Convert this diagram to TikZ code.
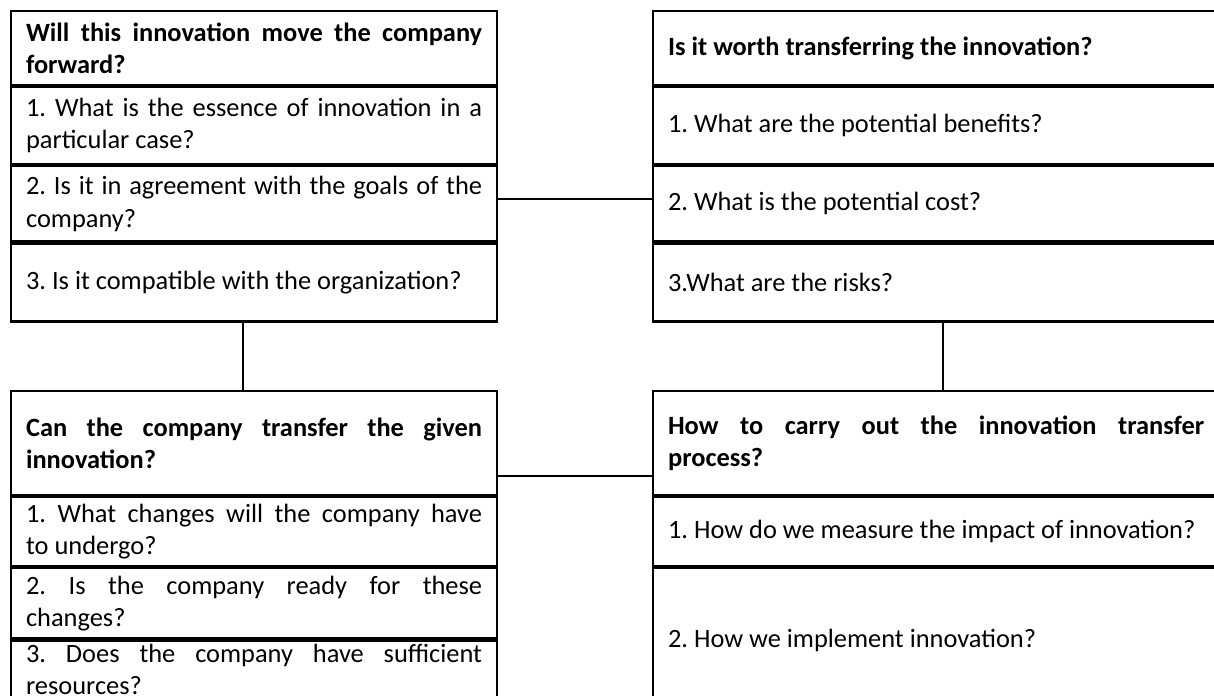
\documentclass[tikz,border=0pt]{standalone}
\usepackage{fontspec}
\setmainfont{Carlito}
\usetikzlibrary{positioning}
\newdimen\pxu \pxu=0.4167pt
\frenchspacing
\hyphenpenalty=10000
\exhyphenpenalty=10000

\tikzstyle{cell} = [draw, rectangle, line width=0.9pt, inner xsep=15\pxu, inner ysep=0pt, align=justify, font=\fontsize{11}{13.4}\selectfont]
\tikzstyle{leftcell} = [cell, minimum width=486\pxu, text width=456\pxu]
\tikzstyle{rightcell} = [cell, minimum width=566\pxu, text width=536\pxu]
\tikzstyle{line} = [draw, line width=0.8pt]

\begin{document}
\begin{tikzpicture}[x=0.4167pt, y=-0.4167pt]
    \useasboundingbox (0,0) rectangle (1214,696);
    % Place nodes
    \node [leftcell, anchor=north west, minimum height=74\pxu] (tl0) at (10,10) {\textbf{Will this innovation move the company forward?}};
    \node [leftcell, minimum height=77\pxu, below=0pt of tl0] (tl1) {1. What is the essence of innovation in a particular case?};
    \node [leftcell, minimum height=75\pxu, below=0pt of tl1] (tl2) {2. Is it in agreement with the goals of the company?};
    \node [leftcell, minimum height=78\pxu, below=0pt of tl2] (tl3) {3. Is it compatible with the organization?};

    \node [rightcell, anchor=north west, minimum height=74\pxu] (tr0) at (652,10) {\textbf{Is it worth transferring the innovation?}};
    \node [rightcell, minimum height=77\pxu, below=0pt of tr0] (tr1) {1. What are the potential benefits?};
    \node [rightcell, minimum height=75\pxu, below=0pt of tr1] (tr2) {2. What is the potential cost?};
    \node [rightcell, minimum height=78\pxu, below=0pt of tr2] (tr3) {3.What are the risks?};

    \node [leftcell, anchor=north west, minimum height=104\pxu] (bl0) at (10,390) {\textbf{Can the company transfer the given\linebreak innovation?}};
    \node [leftcell, minimum height=69\pxu, below=0pt of bl0] (bl1) {1. What changes will the company have\linebreak to undergo?};
    \node [leftcell, minimum height=70\pxu, below=0pt of bl1] (bl2) {2. Is the company ready for these\linebreak changes?};
    \node [leftcell, minimum height=0pt, text height=22\pxu, text depth=55\pxu, below=0pt of bl2] (bl3) {3. Does the company have sufficient\linebreak resources?};

    \node [rightcell, anchor=north west, minimum height=104\pxu] (br0) at (652,390) {\textbf{How to carry out the innovation transfer\linebreak process?}};
    \node [rightcell, minimum height=69\pxu, below=0pt of br0] (br1) {1. How do we measure the impact of innovation?};
    \node [rightcell, minimum height=144\pxu, below=0pt of br1] (br2) {2. How we implement innovation?};
    % Draw edges
    \draw [line] ([yshift=5\pxu]tl2.east) -- ([yshift=5\pxu]tr2.west);
    \draw [line] ([yshift=20\pxu]bl0.south east) -- ([yshift=20\pxu]br0.south west);
    \draw [line] ([xshift=-11\pxu]tl3.south) -- ([xshift=-11\pxu]bl0.north);
    \draw [line] ([xshift=7\pxu]tr3.south) -- ([xshift=7\pxu]br0.north);
\end{tikzpicture}
\end{document}
